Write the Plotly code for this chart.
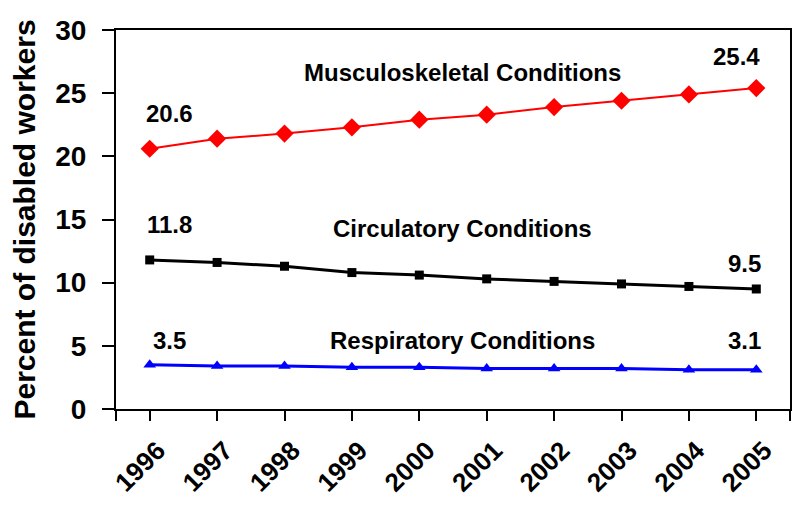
import plotly.graph_objects as go

years = ["1996", "1997", "1998", "1999", "2000", "2001", "2002", "2003", "2004", "2005"]
musculoskeletal = [20.6, 21.4, 21.8, 22.3, 22.9, 23.3, 23.9, 24.4, 24.9, 25.4]
circulatory = [11.8, 11.6, 11.3, 10.8, 10.6, 10.3, 10.1, 9.9, 9.7, 9.5]
respiratory = [3.5, 3.4, 3.4, 3.3, 3.3, 3.2, 3.2, 3.2, 3.1, 3.1]
y_ticks = [0, 5, 10, 15, 20, 25, 30]

xi = list(range(len(years)))
FONT = "Liberation Sans, Arial, sans-serif"

fig = go.Figure()
fig.add_trace(go.Scatter(x=xi, y=musculoskeletal, mode="lines+markers",
                         line=dict(color="#ff0000", width=2),
                         marker=dict(symbol="diamond", size=14, color="#ff0000")))
fig.add_trace(go.Scatter(x=xi, y=circulatory, mode="lines+markers",
                         line=dict(color="#000000", width=3),
                         marker=dict(symbol="square", size=9, color="#000000")))
fig.add_trace(go.Scatter(x=xi, y=respiratory, mode="lines+markers",
                         line=dict(color="#0000ff", width=3),
                         marker=dict(symbol="triangle-up", size=11, color="#0000ff")))

ann = []
def label(x, y, text, size=24):
    ann.append(dict(x=x, y=y, xref="x", yref="y", text="<b>%s</b>" % text, showarrow=False,
                    font=dict(family=FONT, size=size, color="black")))

label(4.64, 26.6, "Musculoskeletal Conditions")
label(4.64, 14.3, "Circulatory Conditions")
label(4.64, 5.46, "Respiratory Conditions")
label(0.3, 23.4, "%.1f" % musculoskeletal[0])
label(8.71, 27.9, "%.1f" % musculoskeletal[-1])
label(0.3, 14.6, "%.1f" % circulatory[0])
label(8.82, 11.55, "%.1f" % circulatory[-1])
label(0.3, 5.46, "%.1f" % respiratory[0])
label(8.82, 5.46, "%.1f" % respiratory[-1])

fig.update_layout(
    width=792, height=507,
    margin=dict(l=108, r=10, t=22, b=106),
    plot_bgcolor="white", paper_bgcolor="white",
    showlegend=False,
    annotations=ann,
    font=dict(family=FONT, color="black"),
    xaxis=dict(range=[-0.5, 9.5], tickvals=[-0.5] + xi + [9.5], ticktext=[""] + years + [""],
               tickangle=-45, ticks="outside", ticklen=10, tickwidth=2, tickcolor="black",
               showgrid=False, zeroline=False, showline=True, linecolor="black", linewidth=2,
               mirror=True, automargin=False, ticklabelshift=8, ticklabelstandoff=4,
               tickfont=dict(family=FONT, size=26, color="black", weight="bold")),
    yaxis=dict(range=[0, 30], tickvals=y_ticks, ticks="outside", ticklen=12, tickwidth=2,
               tickcolor="black", showgrid=False, zeroline=False, showline=True,
               linecolor="black", linewidth=2, mirror=True, automargin=False,
               ticklabelstandoff=10,
               tickfont=dict(family=FONT, size=28, color="black", weight="bold"),
               title=dict(text="<b>Percent of disabled workers</b>",
                          font=dict(family=FONT, size=30, color="black"), standoff=16)),
)

fig.write_html("out.html")
